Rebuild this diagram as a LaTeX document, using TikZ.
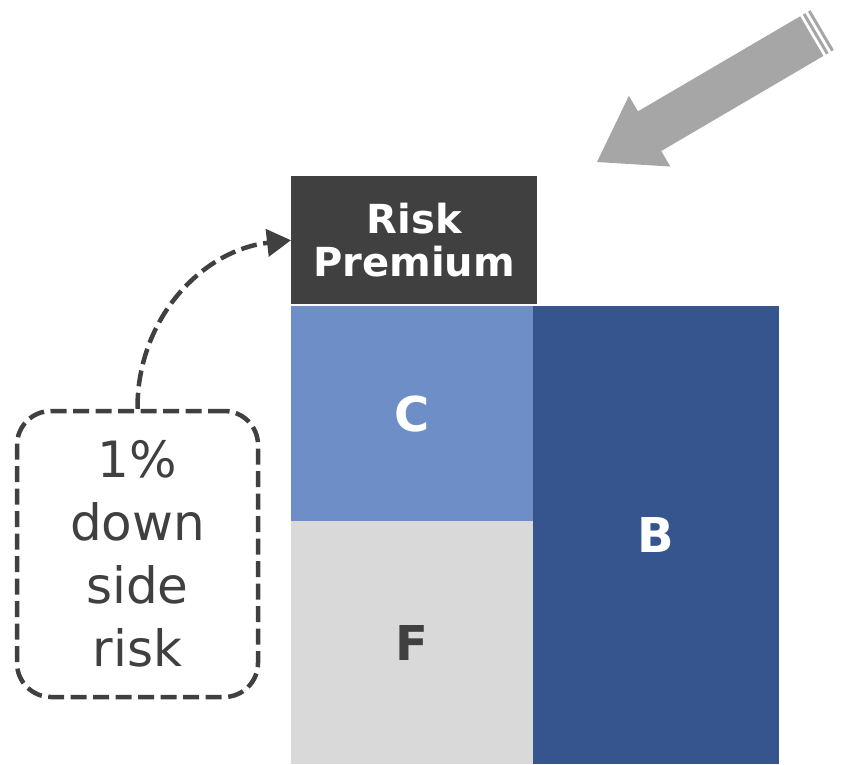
\documentclass[tikz,border=0pt]{standalone}
\usepackage{fontspec}
\setmainfont{DejaVu Sans}
\usepackage{tikz}
\usetikzlibrary{arrows.meta,positioning}
\definecolor{rpdark}{RGB}{64,64,64}
\definecolor{cblue}{RGB}{110,142,199}
\definecolor{bblue}{RGB}{54,85,143}
\definecolor{fgray}{RGB}{217,217,217}
\definecolor{agray}{RGB}{166,166,166}
\tikzset{
  block/.style={anchor=north west, inner sep=0pt, align=center, font=\bfseries\fontsize{48}{52}\selectfont},
  note/.style={draw=rpdark, line width=4.5pt, dash pattern=on 16pt off 6.5pt, rounded corners=34pt,
    minimum width=241pt, minimum height=286pt, inner sep=0pt, align=center, text=rpdark,
    font=\fontsize{50}{63}\selectfont},
  link/.style={draw=rpdark, line width=4.5pt, dash pattern=on 16pt off 6.5pt, -{Triangle[length=24pt,width=27pt]}}
}

\begin{document}
\begin{tikzpicture}[x=1pt, y=-1pt]
\useasboundingbox (0,0) rectangle (846,764);

% stacked blocks
\node[block, fill=rpdark, text=white, minimum width=246pt, minimum height=128pt,
  font=\bfseries\fontsize{40}{43}\selectfont] (rp) at (291,176) {Risk\\Premium};
\node[block, fill=cblue, text=white, minimum width=242pt, minimum height=215pt] (c) at (291,306) {C};
\node[block, fill=fgray, text=rpdark, minimum width=242pt, minimum height=243pt] (f) at (291,521) {F};
\node[block, fill=bblue, text=white, minimum width=246pt, minimum height=458pt] (b) at (533,306) {B};

% dashed note and its curve
\node[note] (dsr) at (137.5,554) {1\%\\down\\side\\risk};
\draw[link] (dsr.north) .. controls (137,318) and (203,250) .. (rp.west);

% striped gray arrow
\begin{scope}[shift={(597,162)}, rotate=210.37]
  \fill[agray] (0,0) -- (-61,41) -- (-61,23) -- (-249,23) -- (-249,-23)
    -- (-61,-23) -- (-61,-41) -- cycle;
  \fill[agray] (-252,-23) rectangle (-255,23);
  \fill[agray] (-258,-23) rectangle (-261,23);
\end{scope}
\end{tikzpicture}
\end{document}
